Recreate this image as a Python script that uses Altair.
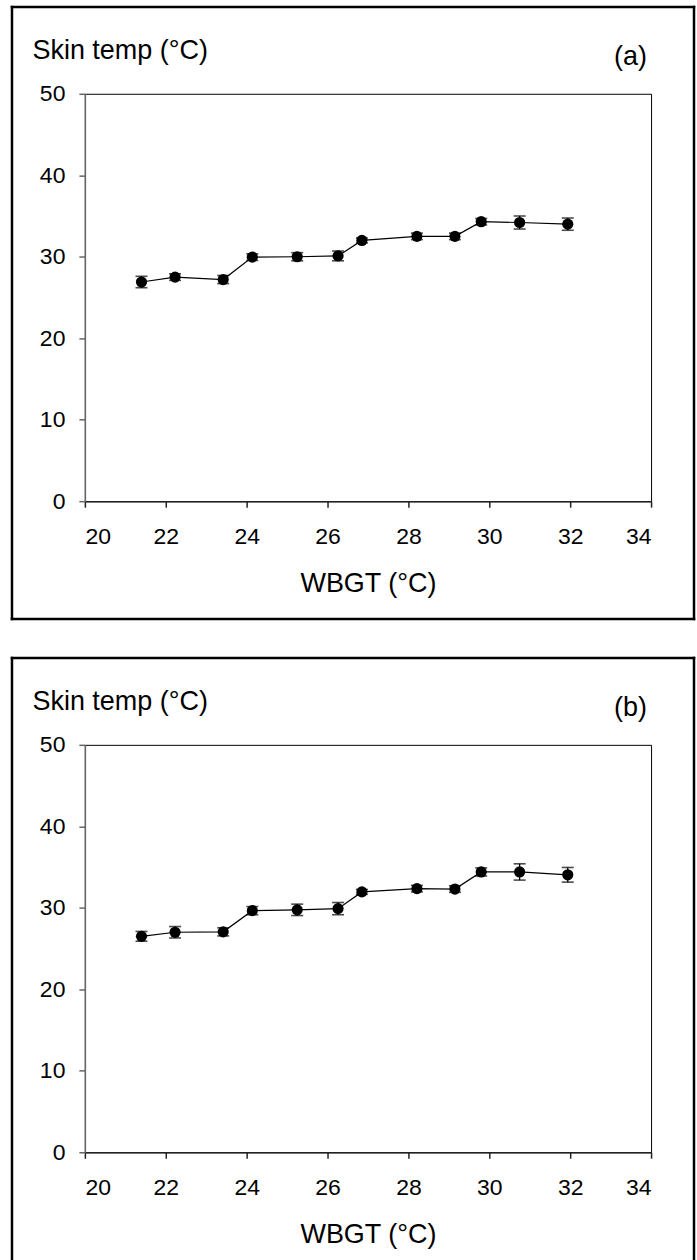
import altair as alt
import pandas as pd

# ---- data ----
wbgt = [21.4, 22.23, 23.42, 24.14, 25.25, 26.26, 26.85, 28.21, 29.15, 29.8, 30.75, 31.94]
skin_a = [26.9, 27.5, 27.2, 29.95, 30.0, 30.1, 32.0, 32.5, 32.5, 34.3, 34.2, 34.0]
err_a = [0.7, 0.4, 0.5, 0.4, 0.5, 0.6, 0.3, 0.4, 0.4, 0.4, 0.8, 0.75]
skin_b = [26.5, 27.0, 27.05, 29.65, 29.75, 29.9, 31.95, 32.35, 32.3, 34.4, 34.4, 34.05]
err_b = [0.6, 0.7, 0.5, 0.5, 0.7, 0.75, 0.3, 0.4, 0.4, 0.5, 1.0, 0.9]
x_ticks = [20, 22, 24, 26, 28, 30, 32, 34]
y_ticks = [0, 10, 20, 30, 40, 50]
panel_tags = ["(a)", "(b)"]
x_title = "WBGT (°C)"
y_title = "Skin temp (°C)"

W, H = 567, 408
FONT = "Liberation Sans"

AX_COMMON = dict(
    grid=False, tickSize=6, labelFont=FONT, titleFont=FONT,
    labelFontSize=23, titleFontSize=27, labelColor="black", titleColor="black",
    titleFontWeight="normal", domainWidth=1.5, tickWidth=1.5,
)


def frame_rules(bottom_closed, bottom_y):
    one = alt.Chart(pd.DataFrame({"k": [0]}))
    common = dict(color="black", strokeWidth=2.5, strokeCap="square")
    top = one.mark_rule(**common).encode(x=alt.value(-73), x2=alt.value(610), y=alt.value(-87))
    left = one.mark_rule(**common).encode(x=alt.value(-73), y=alt.value(-87), y2=alt.value(bottom_y))
    right = one.mark_rule(**common).encode(x=alt.value(610), y=alt.value(-87), y2=alt.value(bottom_y))
    layers = [top, left, right]
    if bottom_closed:
        bot = one.mark_rule(**common).encode(x=alt.value(-73), x2=alt.value(610), y=alt.value(bottom_y))
        layers.append(bot)
    return layers


def panel(values, errors, tag, bottom_closed, bottom_y):
    df = pd.DataFrame({"wbgt": wbgt, "skin": values, "err": errors})
    df["lo"] = df["skin"] - df["err"]
    df["hi"] = df["skin"] + df["err"]

    xs = alt.Scale(domain=[20, 34], nice=False, zero=False)
    ys = alt.Scale(domain=[0, 50], nice=False, zero=False)
    xenc = alt.X(
        "wbgt:Q", scale=xs,
        axis=alt.Axis(values=x_ticks, title=x_title, labelPadding=18,
                      titleX=W / 2, titleY=90, titleBaseline="alphabetic",
                      titleAlign="center", domainColor="#222222", tickColor="#222222",
                      **AX_COMMON))
    yenc = alt.Y(
        "skin:Q", scale=ys,
        axis=alt.Axis(values=y_ticks, title=y_title, labelPadding=14,
                      titleAngle=0, titleAlign="left", titleBaseline="alphabetic",
                      titleX=-53, titleY=-35, domainColor="#666666", tickColor="#666666",
                      **AX_COMMON))

    base = alt.Chart(df)
    line = base.mark_line(color="black", strokeWidth=1.2).encode(x=xenc, y=yenc)
    bars = base.mark_rule(color="black", strokeWidth=1.3).encode(
        x="wbgt:Q", y="lo:Q", y2="hi:Q")
    cap_lo = base.mark_tick(color="black", size=12, thickness=1.6, orient="horizontal").encode(
        x="wbgt:Q", y="lo:Q")
    cap_hi = base.mark_tick(color="black", size=12, thickness=1.6, orient="horizontal").encode(
        x="wbgt:Q", y="hi:Q")
    pts = base.mark_circle(color="black", size=125, opacity=1).encode(x="wbgt:Q", y="skin:Q")

    label = alt.Chart(pd.DataFrame({"tag": [tag]})).mark_text(
        align="right", baseline="alphabetic", fontSize=27, font=FONT, color="black"
    ).encode(text="tag:N", x=alt.value(563), y=alt.value(-29))

    layers = [line, bars, cap_lo, cap_hi, pts, label] + frame_rules(bottom_closed, bottom_y)
    return alt.layer(*layers).properties(width=W, height=H)


pa = panel(skin_a, err_a, panel_tags[0], True, 526)
pb = panel(skin_b, err_b, panel_tags[1], False, 520)

chart = alt.vconcat(pa, pb, spacing=33).properties(
    padding={"left": 9, "top": 3, "right": 0, "bottom": 0},
    background="white",
).configure_view(
    stroke="black", strokeWidth=1
)

chart.save("out.html", embed_options={"renderer": "svg", "actions": False})
